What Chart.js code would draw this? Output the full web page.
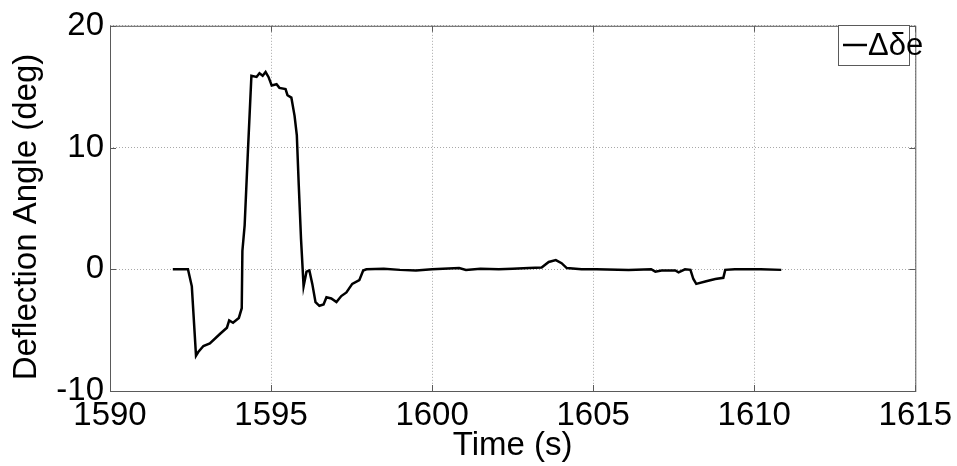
<!DOCTYPE html>
<html>
<head>
<meta charset="utf-8">
<script src="https://cdn.jsdelivr.net/npm/chart.js@4/dist/chart.umd.min.js"></script>
<style>
  html, body { margin: 0; padding: 0; background: #fff; }
  #wrap { width: 957px; height: 466px; position: relative; }
</style>
</head>
<body>
<div id="wrap"><canvas id="chart"></canvas></div>
<script>
// ---------- elevator deflection trace ----------
const timeSeconds = [
  1591.95, 1592.42, 1592.54, 1592.67, 1592.74, 1592.9, 1593.1, 1593.42, 1593.63, 1593.7,
  1593.82, 1594.0, 1594.09, 1594.11, 1594.18, 1594.28, 1594.39, 1594.55, 1594.64, 1594.74,
  1594.83, 1594.92, 1595.02, 1595.17, 1595.26, 1595.45, 1595.51, 1595.63, 1595.73, 1595.8,
  1595.86, 1595.93, 1596.01, 1596.1, 1596.19, 1596.28, 1596.38, 1596.5, 1596.63, 1596.72,
  1596.87, 1597.03, 1597.18, 1597.34, 1597.52, 1597.74, 1597.86, 1597.96, 1598.5, 1599.0,
  1599.5, 1600.0, 1600.84, 1601.05, 1601.5, 1602.07, 1602.5, 1603.0, 1603.4, 1603.62,
  1603.84, 1604.02, 1604.18, 1604.64, 1605.1, 1606.1, 1606.8, 1606.93, 1607.12, 1607.55,
  1607.65, 1607.85, 1608.02, 1608.11, 1608.2, 1608.48, 1608.79, 1609.04, 1609.1, 1609.4,
  1610.2, 1610.84
];
const deflectionDeg = [
  0, 0, -1.4, -7.1, -6.8, -6.3, -6.1, -5.3, -4.8, -4.2,
  -4.4, -4.0, -3.2, 1.5, 3.6, 9.6, 15.9, 15.8, 16.1, 15.9,
  16.2, 15.8, 15.1, 15.2, 14.9, 14.8, 14.3, 14.1, 12.6, 11.0,
  6.9, 2.5, -1.4, -0.2, -0.1, -1.2, -2.7, -3.0, -2.9, -2.3,
  -2.4, -2.7, -2.2, -1.9, -1.2, -0.9, -0.1, 0, 0.05, -0.05,
  -0.1, 0, 0.1, -0.05, 0.05, 0, 0.05, 0.1, 0.15, 0.6,
  0.75, 0.5, 0.1, 0, 0, -0.05, 0, -0.2, -0.1, -0.1,
  -0.25, 0, -0.05, -0.8, -1.2, -1.0, -0.8, -0.7, -0.05, 0,
  0, -0.05
];
const xTickValues = [1590, 1595, 1600, 1605, 1610, 1615];
const yTickValues = [-10, 0, 10, 20];
const seriesLabel = "\u0394\u03B4e";
const xTitle = "Time (s)";
const yTitle = "Deflection Angle (deg)";

const FONT = "Arial, 'Liberation Sans', sans-serif";
const FRAME_COLOR = "#5a5a5a";

// box around the axes with small inward tick marks on all four sides
const axesFrame = {
  id: "axesFrame",
  afterDatasetsDraw(chart) {
    const { ctx, chartArea: a, scales } = chart;
    ctx.save();
    ctx.strokeStyle = FRAME_COLOR;
    ctx.lineWidth = 1;
    ctx.strokeRect(a.left + 0.5, a.top + 0.5, a.right - a.left, a.bottom - a.top);
    const len = 6;
    ctx.beginPath();
    xTickValues.forEach((v) => {
      const px = Math.round(scales.x.getPixelForValue(v)) + 0.5;
      ctx.moveTo(px, a.bottom); ctx.lineTo(px, a.bottom - len);
      ctx.moveTo(px, a.top); ctx.lineTo(px, a.top + len);
    });
    yTickValues.forEach((v) => {
      const py = Math.round(scales.y.getPixelForValue(v)) + 0.5;
      ctx.moveTo(a.left, py); ctx.lineTo(a.left + len, py);
      ctx.moveTo(a.right, py); ctx.lineTo(a.right - len, py);
    });
    ctx.stroke();
    ctx.restore();
  },
};

// y title and the boxed legend in the top-right corner
const annotations = {
  id: "annotations",
  afterDraw(chart) {
    const { ctx } = chart;
    ctx.save();
    ctx.fillStyle = "#000";
    ctx.font = "33px " + FONT;
    ctx.textAlign = "center";
    ctx.textBaseline = "middle";
    ctx.translate(27, 217);
    ctx.rotate(-Math.PI / 2);
    ctx.fillText(yTitle, 0, 0);
    ctx.restore();

    const bx = 838, by = 25, bw = 71, bh = 40;
    ctx.save();
    ctx.fillStyle = "#fff";
    ctx.fillRect(bx, by, bw, bh);
    ctx.strokeStyle = FRAME_COLOR;
    ctx.lineWidth = 1;
    ctx.strokeRect(bx + 0.5, by + 0.5, bw, bh);
    ctx.strokeStyle = "#000";
    ctx.lineWidth = 2.5;
    ctx.beginPath();
    ctx.moveTo(bx + 5, by + 20);
    ctx.lineTo(bx + 29, by + 20);
    ctx.stroke();
    ctx.fillStyle = "#000";
    ctx.font = "31px " + FONT;
    ctx.textAlign = "left";
    ctx.textBaseline = "middle";
    ctx.fillText(seriesLabel, bx + 30, by + 21);
    ctx.restore();
  },
};

const canvas = document.getElementById("chart");
new Chart(canvas, {
  type: "line",
  data: {
    datasets: [{
      label: seriesLabel,
      data: timeSeconds.map((t, i) => ({ x: t, y: deflectionDeg[i] })),
      borderColor: "#000",
      borderWidth: 2.5,
      pointRadius: 0,
      tension: 0,
      fill: false,
    }],
  },
  options: {
    responsive: true,
    maintainAspectRatio: false,
    animation: false,
    layout: { padding: { top: 22, right: 40, left: 0, bottom: 0 } },
    plugins: {
      legend: { display: false },
      tooltip: { enabled: false },
    },
    scales: {
      x: {
        type: "linear",
        min: 1590,
        max: 1615,
        afterBuildTicks(s) { s.ticks = xTickValues.map((v) => ({ value: v })); },
        afterFit(s) { s.height = 75; },
        ticks: {
          color: "#000",
          padding: 5,
          maxRotation: 0,
          font: { family: FONT, size: 33 },
          callback: (v) => String(v),
        },
        grid: { color: "#a8a8a8", drawTicks: false },
        border: { display: false, dash: [1, 2] },
        title: {
          display: true,
          text: xTitle,
          color: "#000",
          font: { family: FONT, size: 33, lineHeight: 1.2 },
          padding: { top: 0, bottom: 0 },
        },
      },
      y: {
        type: "linear",
        min: -10,
        max: 20,
        afterBuildTicks(s) { s.ticks = yTickValues.map((v) => ({ value: v })); },
        afterFit(s) { s.width = 110; },
        ticks: {
          color: "#000",
          padding: 6,
          font: { family: FONT, size: 33 },
          callback: (v) => String(v),
        },
        grid: { color: "#a8a8a8", drawTicks: false },
        border: { display: false, dash: [1, 2] },
      },
    },
  },
  plugins: [axesFrame, annotations],
});
</script>
</body>
</html>
